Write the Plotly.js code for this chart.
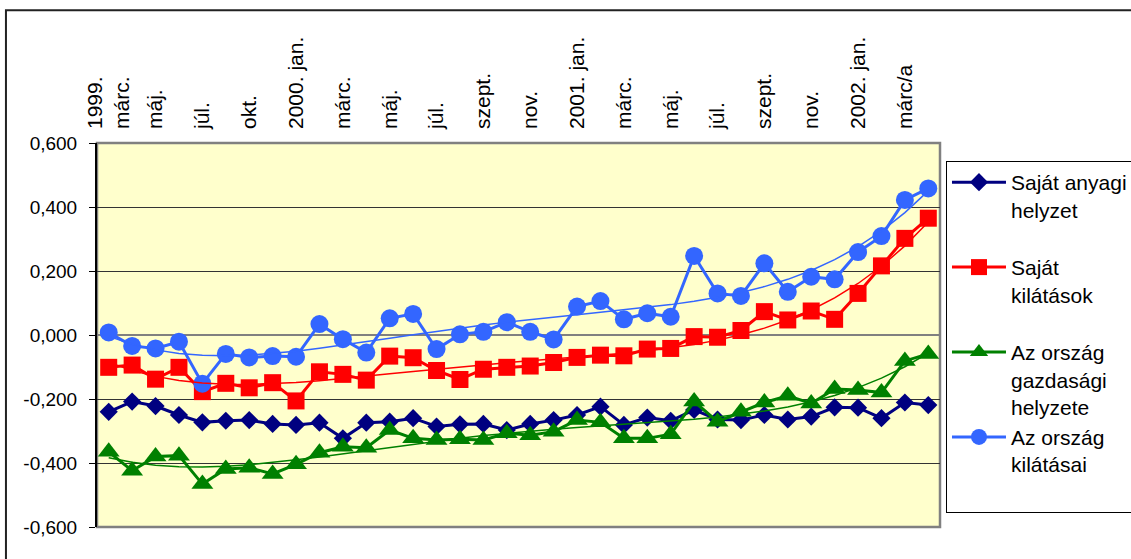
<!DOCTYPE html>
<html>
<head>
<meta charset="utf-8">
<script src="https://cdn.plot.ly/plotly-3.0.1.min.js"></script>
<style>html,body{margin:0;padding:0;background:#fff;}#chart{width:1131px;height:559px;}</style>
</head>
<body>
<div id="chart"></div>
<script>
// ---- data ----
const categories = ["1999. márc.","1999. ápr.","1999. máj.","1999. jún.","1999. júl.","1999. szept.","1999. okt.","1999. dec.",
  "2000. jan.","2000. febr.","2000. márc.","2000. ápr.","2000. máj.","2000. jún.","2000. júl.","2000. aug.","2000. szept.","2000. okt.","2000. nov.","2000. dec.",
  "2001. jan.","2001. febr.","2001. márc.","2001. ápr.","2001. máj.","2001. jún.","2001. júl.","2001. aug.","2001. szept.","2001. okt.","2001. nov.","2001. dec.",
  "2002. jan.","2002. febr.","2002. márc/a","2002. ápr."];
const tickLabels = ["1999.<br>márc.","máj.","júl.","okt.","2000. jan.","márc.","máj.","júl.","szept.","nov.","2001. jan.","márc.","máj.","júl.","szept.","nov.","2002. jan.","márc/a"];
const seriesNames = ["Saját anyagi<br>helyzet","Saját<br>kilátások","Az ország<br>gazdasági<br>helyzete","Az ország<br>kilátásai"];
const sajatAnyagi = [-0.240,-0.208,-0.222,-0.250,-0.273,-0.268,-0.266,-0.278,-0.281,-0.274,-0.323,-0.274,-0.271,-0.260,-0.286,-0.279,-0.278,-0.297,-0.278,-0.266,-0.250,-0.224,-0.281,-0.258,-0.268,-0.234,-0.264,-0.266,-0.250,-0.264,-0.255,-0.226,-0.227,-0.260,-0.211,-0.219];
const sajatKilatasok = [-0.101,-0.094,-0.138,-0.101,-0.177,-0.151,-0.165,-0.149,-0.206,-0.115,-0.123,-0.141,-0.066,-0.071,-0.111,-0.139,-0.107,-0.101,-0.097,-0.086,-0.070,-0.063,-0.065,-0.044,-0.042,-0.005,-0.007,0.014,0.073,0.047,0.075,0.049,0.130,0.216,0.302,0.365];
const orszagGazdasagi = [-0.365,-0.424,-0.380,-0.377,-0.466,-0.419,-0.415,-0.434,-0.404,-0.368,-0.349,-0.352,-0.297,-0.323,-0.328,-0.326,-0.328,-0.307,-0.313,-0.302,-0.266,-0.273,-0.323,-0.323,-0.310,-0.208,-0.271,-0.240,-0.211,-0.190,-0.214,-0.169,-0.172,-0.180,-0.081,-0.059];
const orszagKilatasai = [0.008,-0.034,-0.042,-0.021,-0.152,-0.059,-0.070,-0.066,-0.068,0.034,-0.013,-0.055,0.052,0.066,-0.044,0.002,0.010,0.040,0.010,-0.014,0.089,0.106,0.049,0.068,0.057,0.247,0.130,0.122,0.224,0.135,0.182,0.174,0.259,0.309,0.422,0.458];
const yTickVals = [-0.6,-0.4,-0.2,0,0.2,0.4,0.6];
const yTickText = ["-0,600","-0,400","-0,200","0,000","0,200","0,400","0,600"];

// ---- polynomial trendline (least squares, like Excel) ----
function polyTrend(ys, order){
  const n = ys.length, c = (n-1)/2;
  const xs = ys.map((_,i)=> (i-c)/c);
  const m = order+1;
  const A = Array.from({length:m},()=>new Array(m+1).fill(0));
  for(let i=0;i<n;i++){
    const p=[]; let v=1; for(let k=0;k<m;k++){p.push(v); v*=xs[i];}
    for(let r=0;r<m;r++){ for(let s=0;s<m;s++) A[r][s]+=p[r]*p[s]; A[r][m]+=p[r]*ys[i]; }
  }
  for(let col=0;col<m;col++){
    let piv=col; for(let r=col+1;r<m;r++) if(Math.abs(A[r][col])>Math.abs(A[piv][col])) piv=r;
    [A[col],A[piv]]=[A[piv],A[col]];
    for(let r=0;r<m;r++){ if(r===col) continue; const f=A[r][col]/A[col][col]; for(let s=col;s<=m;s++) A[r][s]-=f*A[col][s]; }
  }
  const coef = A.map((row,i)=>row[m]/row[i]);
  return xs.map(x=>{let v=0,t=1; for(let k=0;k<m;k++){v+=coef[k]*t; t*=x;} return v;});
}

const colors = ["#000080","#FF0000","#008000","#3366FF"];
const symbols = ["diamond","square","triangle-up","circle"];
const sizes = [14,17,19,18];
const allSeries = [sajatAnyagi, sajatKilatasok, orszagGazdasagi, orszagKilatasai];
const withTrend = [false, true, true, true];

const traces = [];
allSeries.forEach((ys,i)=>{
  traces.push({
    type:"scatter", mode:"lines+markers", x:categories, y:ys, name:seriesNames[i] + (i===2?"":"<br> "),
    line:{color:colors[i], width:3}, marker:{symbol:symbols[i], size:sizes[i], color:colors[i]},
    legendgroup:"g"+i, hoverinfo:"x+y"
  });
});
allSeries.forEach((ys,i)=>{
  if(!withTrend[i]) return;
  traces.push({
    type:"scatter", mode:"lines", x:categories, y:polyTrend(ys,4), showlegend:false,
    line:{color:colors[i], width:1.5}, hoverinfo:"skip"
  });
});

const fam = "Liberation Sans, Arial, sans-serif";
const layout = {
  width:1131, height:559,
  margin:{l:97, r:191, t:143, b:32, autoexpand:false},
  paper_bgcolor:"#ffffff", plot_bgcolor:"#FFFFCC",
  font:{family:fam, size:20, color:"#000"},
  showlegend:true,
  legend:{x:1.0071, xanchor:"left", y:0.953, yanchor:"top", bgcolor:"#ffffff", bordercolor:"#000000", borderwidth:1,
    font:{family:fam, size:21, color:"#000"}, valign:"top", traceorder:"grouped", tracegroupgap:0, itemwidth:54},
  xaxis:{type:"category", range:[-0.5,35.5], side:"top", tickangle:-90, tickmode:"array",
    tickvals:categories.filter((_,i)=>i%2===0), ticktext:tickLabels, ticks:"", showgrid:false, zeroline:false,
    showline:false, ticklabelstandoff:13, tickfont:{family:fam, size:21, color:"#000"}, fixedrange:true},
  xaxis2:{overlaying:"x", anchor:"free", position:0.5, side:"bottom", range:[-0.5,35.5], tickmode:"linear", tick0:-0.5, dtick:1,
    ticks:"outside", ticklen:6, tickcolor:"#000", showticklabels:false, showgrid:false, zeroline:false, showline:false},
  xaxis3:{overlaying:"x", anchor:"free", position:0.5, side:"bottom", range:[-0.5,35.5], tickmode:"linear", tick0:-0.5, dtick:1,
    ticks:"inside", ticklen:6, tickcolor:"#000", showticklabels:false, showgrid:false, zeroline:false, showline:false},
  yaxis:{range:[-0.6,0.6], tickmode:"array", tickvals:yTickVals, ticktext:yTickText, ticks:"outside", ticklen:6, tickcolor:"#000",
    showline:true, linecolor:"#000", linewidth:2, showgrid:true, gridcolor:"#333333", gridwidth:1,
    zeroline:true, zerolinecolor:"#808080", zerolinewidth:2, ticklabelstandoff:8,
    tickfont:{family:fam, size:19, color:"#000"}, fixedrange:true},
  shapes:[
    {type:"rect", xref:"paper", yref:"paper", x0:0, x1:1, y0:0, y1:1, line:{color:"#808080", width:2.5}, layer:"below"},
    {type:"rect", xref:"paper", yref:"paper", x0:-0.108, x1:1.3, y0:-0.2, y1:1.346, line:{color:"#222", width:2}, layer:"below"}
  ]
};
Plotly.newPlot("chart", traces, layout, {staticPlot:true, displayModeBar:false});
</script>
</body>
</html>
